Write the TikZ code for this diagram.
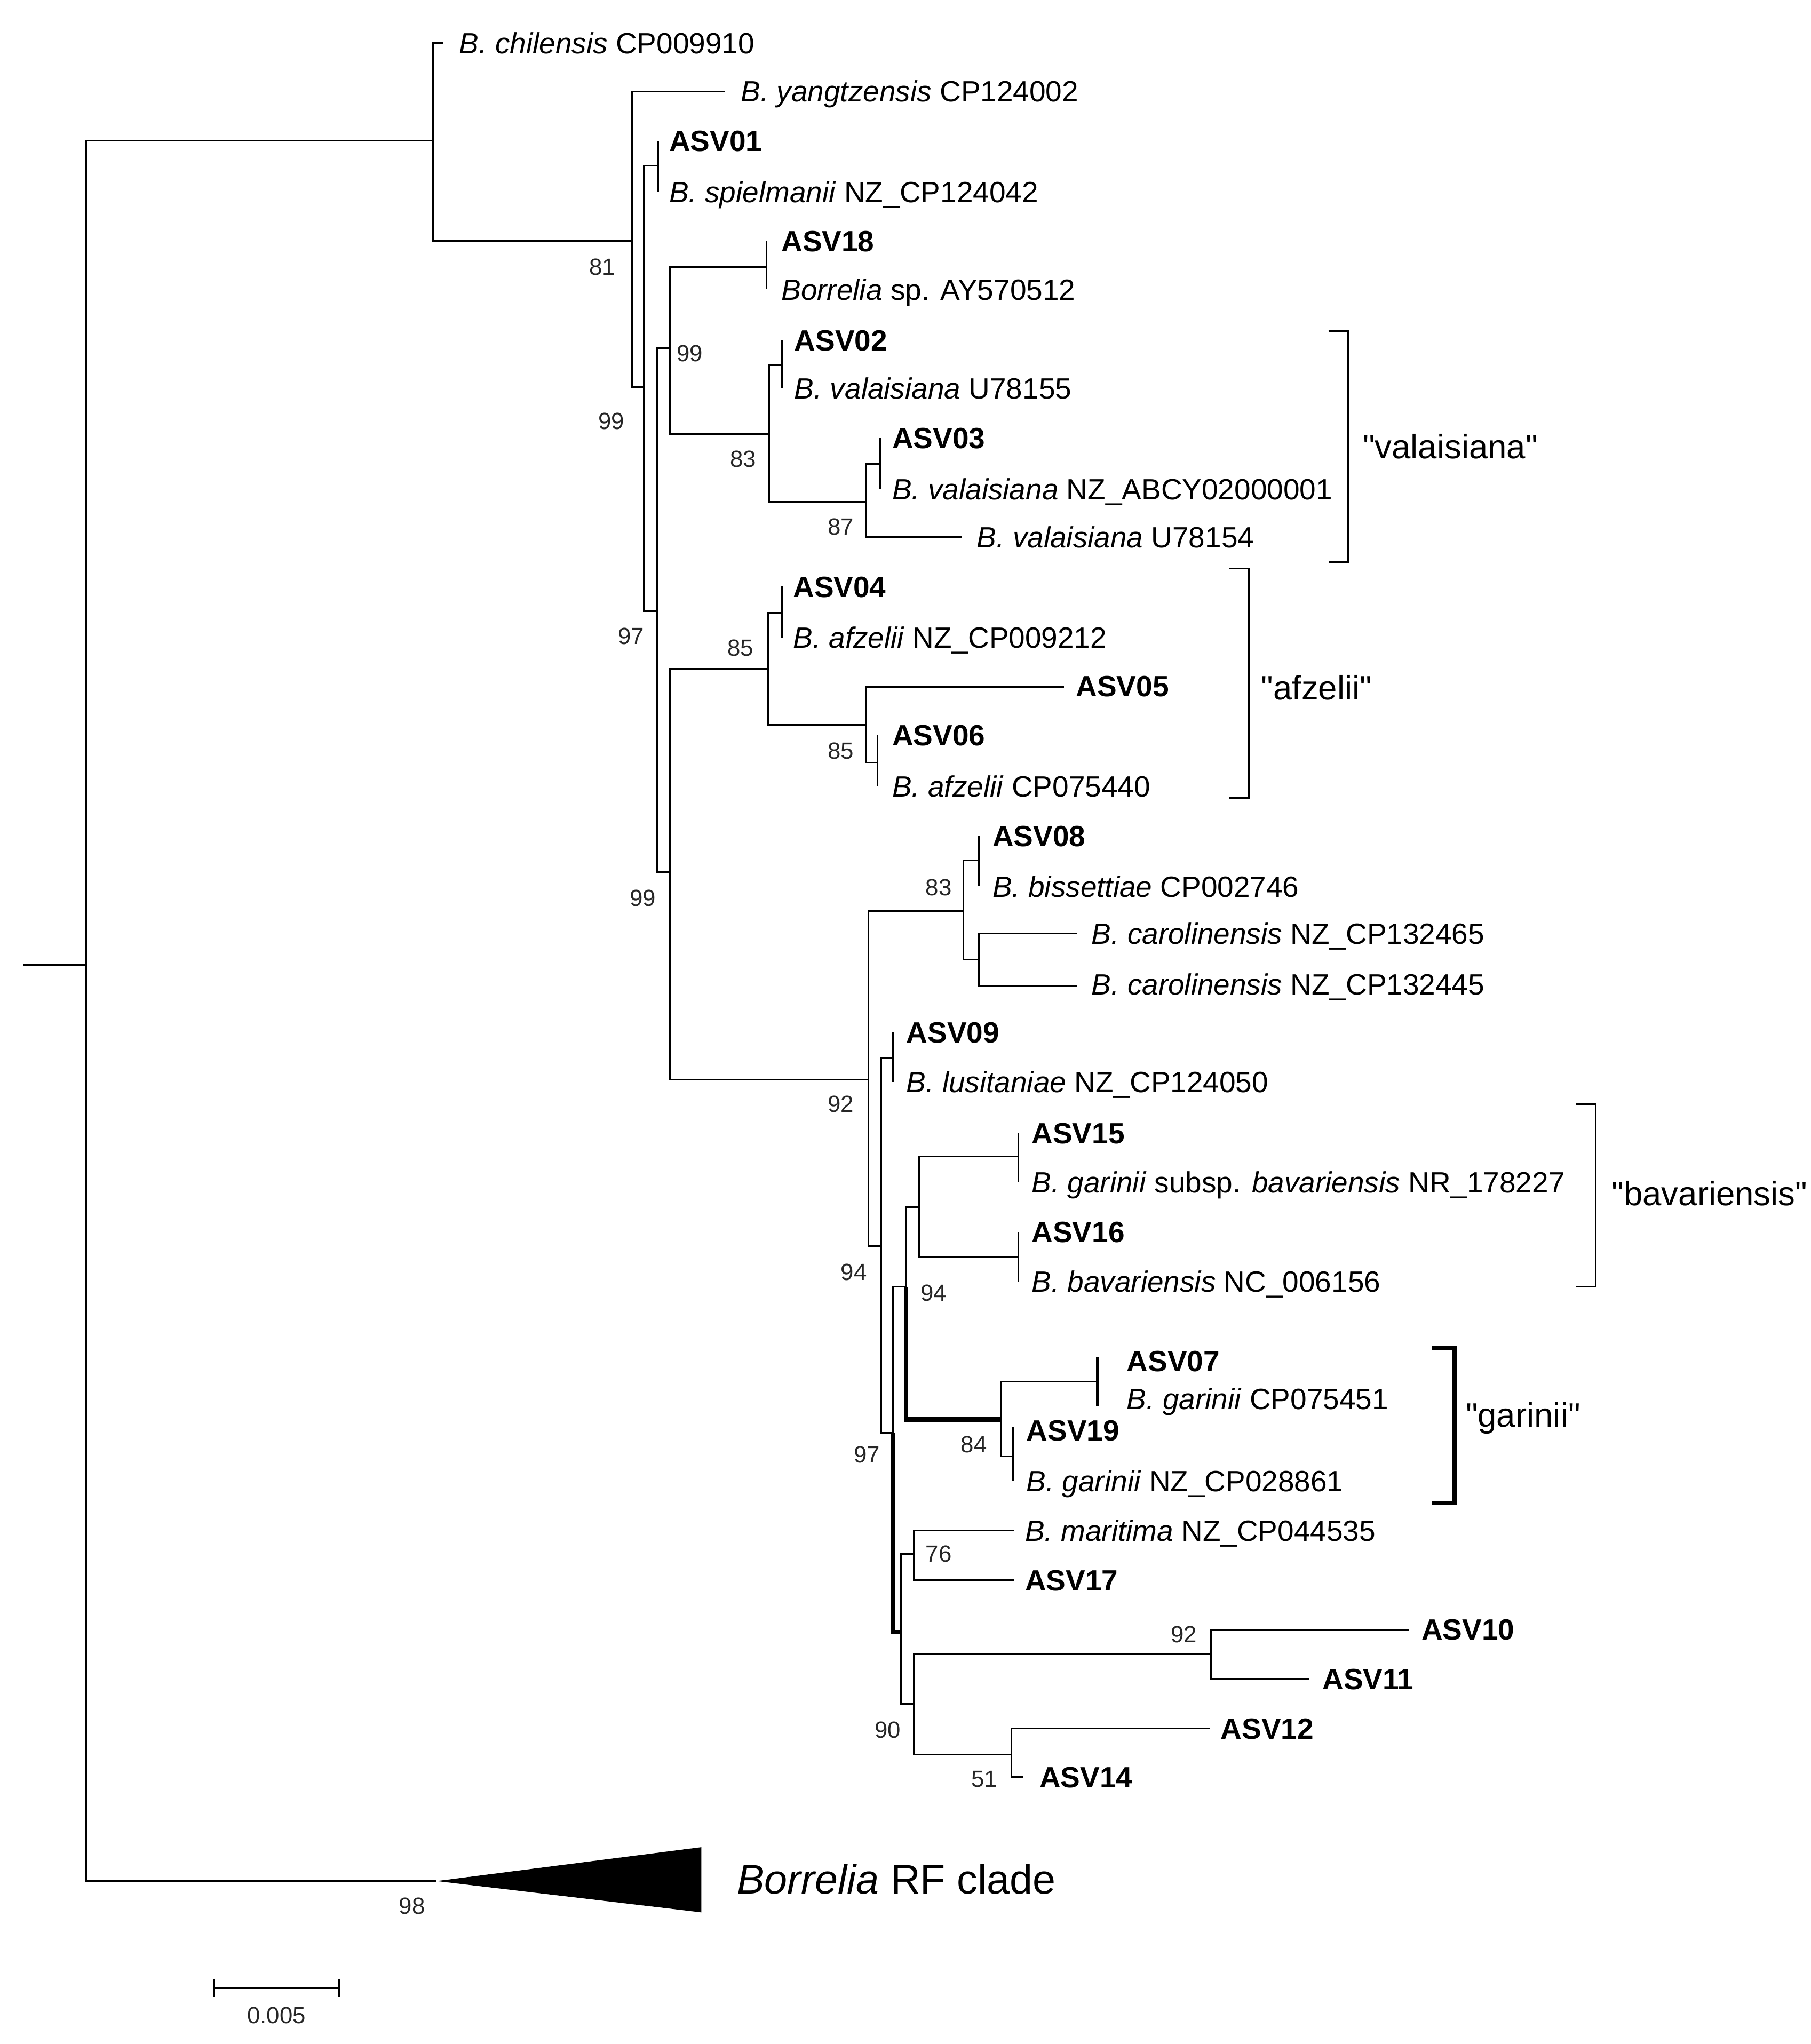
\documentclass[tikz,border=0pt]{standalone}
\usepackage{fontspec}
\setmainfont{Liberation Sans}
\usetikzlibrary{positioning, calc}

% straight double quote, without the tex-text mapping
\newcommand\sq{\XeTeXglyph\XeTeXcharglyph"22\relax}

\tikzset{
  branch/.style={line width=0.7pt},
  hibranch/.style={line width=2pt},
  leaf/.style={anchor=mid west, inner sep=0pt, yshift=-0.7mm, font=\fontsize{12.8}{14}\selectfont},
  asv/.style={leaf, font=\fontsize{12.8}{14}\selectfont\bfseries},
  boot/.style={inner sep=0pt, text=black!85, font=\fontsize{10.2}{12}\selectfont},
  cladename/.style={anchor=mid west, inner sep=0pt, yshift=-0.8mm, font=\fontsize{14.8}{17}\selectfont},
}

\begin{document}
\begin{tikzpicture}[x=0.2mm, y=-0.2mm]
      \useasboundingbox (0,0) rectangle (1389,1568);

      % inner nodes of the tree
      \coordinate (stem) at (18,740);
      \coordinate (root) at (66,740);
      \coordinate (n1) at (332,108);
      \coordinate (n2) at (485,185);
      \coordinate (n3) at (494,297);
      \coordinate (p01) at (505,127);
      \coordinate (n5) at (504,469);
      \coordinate (n6) at (514,267);
      \coordinate (p18) at (588,205);
      \coordinate (n8) at (590,333);
      \coordinate (p02) at (600,280);
      \coordinate (n10) at (664,385);
      \coordinate (p03) at (675,356);
      \coordinate (n12) at (514,669);
      \coordinate (n13) at (589,513);
      \coordinate (p04) at (600,470);
      \coordinate (n15) at (664,556);
      \coordinate (p06) at (673,585);
      \coordinate (n17) at (666,828);
      \coordinate (n18) at (739,699);
      \coordinate (p08) at (751,660);
      \coordinate (ncar) at (751,736);
      \coordinate (n21) at (676,956);
      \coordinate (p09) at (685,812);
      \coordinate (n23) at (685,1099);
      \coordinate (n24) at (695,987);
      \coordinate (n25) at (705,926);
      \coordinate (p15) at (781,887);
      \coordinate (p16) at (781,964);
      \coordinate (n28) at (768,1089);
      \coordinate (p07) at (842,1060);
      \coordinate (p19) at (777,1117);
      \coordinate (n31) at (691,1252);
      \coordinate (n32) at (701,1192);
      \coordinate (n33) at (701,1307);
      \coordinate (n34) at (929,1269);
      \coordinate (n35) at (776,1346);
      \coordinate (rf) at (335,1443);

      % tips
      \coordinate (chilT) at (340,33);
      \coordinate (yangT) at (556,70);
      \coordinate (asv01T) at (505,108);
      \coordinate (spielT) at (505,147);
      \coordinate (asv18T) at (588,185);
      \coordinate (ayT) at (588,222);
      \coordinate (asv02T) at (600,261);
      \coordinate (u155T) at (600,298);
      \coordinate (asv03T) at (675,336);
      \coordinate (abcyT) at (675,375);
      \coordinate (u154T) at (738,412);
      \coordinate (asv04T) at (600,450);
      \coordinate (afzaT) at (600,489);
      \coordinate (asv05T) at (816,527);
      \coordinate (asv06T) at (673,564);
      \coordinate (afzbT) at (673,603);
      \coordinate (asv08T) at (751,641);
      \coordinate (bissT) at (751,680);
      \coordinate (caraT) at (826,716);
      \coordinate (carbT) at (826,756);
      \coordinate (asv09T) at (685,792);
      \coordinate (lusT) at (685,830);
      \coordinate (asv15T) at (781,869);
      \coordinate (gsubT) at (781,907);
      \coordinate (asv16T) at (781,945);
      \coordinate (bavT) at (781,983);
      \coordinate (asv07T) at (842,1041);
      \coordinate (garaT) at (842,1079);
      \coordinate (asv19T) at (777,1095);
      \coordinate (garbT) at (777,1136);
      \coordinate (marT) at (778,1174);
      \coordinate (asv17T) at (778,1212);
      \coordinate (asv10T) at (1081,1250);
      \coordinate (asv11T) at (1004,1288);
      \coordinate (asv12T) at (928,1326);
      \coordinate (asv14T) at (785,1363);

      % tip labels
      \node[leaf] (chil) at (352,33) {\textit{B. chilensis} CP009910};
      \node[leaf] (yang) at (568,70) {\textit{B. yangtzensis} CP124002};
      \node[asv] (asv01) at (513,108) {ASV01};
      \node[leaf] (spiel) at (513,147) {\textit{B. spielmanii} NZ\_CP124042};
      \node[asv] (asv18) at (599,185) {ASV18};
      \node[leaf] (ay) at (599,222) {\textit{Borrelia} sp. AY570512};
      \node[asv] (asv02) at (609,261) {ASV02};
      \node[leaf] (u155) at (609,298) {\textit{B. valaisiana} U78155};
      \node[asv] (asv03) at (684,336) {ASV03};
      \node[leaf] (abcy) at (684,375) {\textit{B. valaisiana} NZ\_ABCY02000001};
      \node[leaf] (u154) at (749,412) {\textit{B. valaisiana} U78154};
      \node[asv] (asv04) at (608,450) {ASV04};
      \node[leaf] (afza) at (608,489) {\textit{B. afzelii} NZ\_CP009212};
      \node[asv] (asv05) at (825,526) {ASV05};
      \node[asv] (asv06) at (684,564) {ASV06};
      \node[leaf] (afzb) at (684,603) {\textit{B. afzelii} CP075440};
      \node[asv] (asv08) at (761,641) {ASV08};
      \node[leaf] (biss) at (761,680) {\textit{B. bissettiae} CP002746};
      \node[leaf] (cara) at (837,716) {\textit{B. carolinensis} NZ\_CP132465};
      \node[leaf] (carb) at (837,755) {\textit{B. carolinensis} NZ\_CP132445};
      \node[asv] (asv09) at (695,792) {ASV09};
      \node[leaf] (lus) at (695,830) {\textit{B. lusitaniae} NZ\_CP124050};
      \node[asv] (asv15) at (791,869) {ASV15};
      \node[leaf] (gsub) at (791,907) {\textit{B. garinii} subsp. \textit{bavariensis} NR\_178227};
      \node[asv] (asv16) at (791,945) {ASV16};
      \node[leaf] (bav) at (791,983) {\textit{B. bavariensis} NC\_006156};
      \node[asv] (asv07) at (864,1044) {ASV07};
      \node[leaf] (gara) at (864,1073) {\textit{B. garinii} CP075451};
      \node[asv] (asv19) at (787,1097) {ASV19};
      \node[leaf] (garb) at (787,1136) {\textit{B. garinii} NZ\_CP028861};
      \node[leaf] (mar) at (786,1174) {\textit{B. maritima} NZ\_CP044535};
      \node[asv] (asv17) at (786,1212) {ASV17};
      \node[asv] (asv10) at (1090,1250) {ASV10};
      \node[asv] (asv11) at (1014,1288) {ASV11};
      \node[asv] (asv12) at (936,1326) {ASV12};
      \node[asv] (asv14) at (797,1363) {ASV14};

      % branches
      \draw[branch] (stem) -- (root);
      \draw[branch] (root) |- (n1);
      \draw[branch] (root) |- (rf);
      \draw[branch] (n1) |- (chilT);
      \draw[branch] (n1) |- (n2);
      \draw[branch] (n2) |- (yangT);
      \draw[branch] (n2) |- (n3);
      \draw[branch] (n3) |- (p01);
      \draw[branch] (p01) |- (asv01T);
      \draw[branch] (p01) |- (spielT);
      \draw[branch] (n3) |- (n5);
      \draw[branch] (n5) |- (n6);
      \draw[branch] (n6) |- (p18);
      \draw[branch] (p18) |- (asv18T);
      \draw[branch] (p18) |- (ayT);
      \draw[branch] (n6) |- (n8);
      \draw[branch] (n8) |- (p02);
      \draw[branch] (p02) |- (asv02T);
      \draw[branch] (p02) |- (u155T);
      \draw[branch] (n8) |- (n10);
      \draw[branch] (n10) |- (p03);
      \draw[branch] (p03) |- (asv03T);
      \draw[branch] (p03) |- (abcyT);
      \draw[branch] (n10) |- (u154T);
      \draw[branch] (n5) |- (n12);
      \draw[branch] (n12) |- (n13);
      \draw[branch] (n13) |- (p04);
      \draw[branch] (p04) |- (asv04T);
      \draw[branch] (p04) |- (afzaT);
      \draw[branch] (n13) |- (n15);
      \draw[branch] (n15) |- (asv05T);
      \draw[branch] (n15) |- (p06);
      \draw[branch] (p06) |- (asv06T);
      \draw[branch] (p06) |- (afzbT);
      \draw[branch] (n12) |- (n17);
      \draw[branch] (n17) |- (n18);
      \draw[branch] (n18) |- (p08);
      \draw[branch] (p08) |- (asv08T);
      \draw[branch] (p08) |- (bissT);
      \draw[branch] (n18) |- (ncar);
      \draw[branch] (ncar) |- (caraT);
      \draw[branch] (ncar) |- (carbT);
      \draw[branch] (n17) |- (n21);
      \draw[branch] (n21) |- (p09);
      \draw[branch] (p09) |- (asv09T);
      \draw[branch] (p09) |- (lusT);
      \draw[branch] (n21) |- (n23);
      \draw[branch] (n23) |- (n24);
      \draw[branch] (n24) |- (n25);
      \draw[branch] (n25) |- (p15);
      \draw[branch] (p15) |- (asv15T);
      \draw[branch] (p15) |- (gsubT);
      \draw[branch] (n25) |- (p16);
      \draw[branch] (p16) |- (asv16T);
      \draw[branch] (p16) |- (bavT);
      \draw[hibranch] (n24) |- (n28);
      \draw[branch] (n28) |- (p07);
      \draw[line width=1.3pt] (asv07T) -- (garaT);
      \draw[branch] (n28) |- (p19);
      \draw[branch] (p19) |- (asv19T);
      \draw[branch] (p19) |- (garbT);
      \draw[hibranch] (n23) |- (n31);
      \draw[branch] (n31) |- (n32);
      \draw[branch] (n32) |- (marT);
      \draw[branch] (n32) |- (asv17T);
      \draw[branch] (n31) |- (n33);
      \draw[branch] (n33) |- (n34);
      \draw[branch] (n34) |- (asv10T);
      \draw[branch] (n34) |- (asv11T);
      \draw[branch] (n33) |- (n35);
      \draw[branch] (n35) |- (asv12T);
      \draw[branch] (n35) |- (asv14T);

      % collapsed clade
      \fill (rf) -- (538,1417) -- (538,1467) -- cycle;
      \node[anchor=mid west, inner sep=0pt, yshift=-1mm, font=\fontsize{18}{20}\selectfont] (rfname) at (565,1443) {\textit{Borrelia} RF clade};

      % bootstrap values
      \node[boot] (bs81) at (462,205) {81};
      \node[boot] (bs99a) at (469,323) {99};
      \node[boot] (bs99b) at (529,271) {99};
      \node[boot] (bs83a) at (570,352) {83};
      \node[boot] (bs87) at (645,404) {87};
      \node[boot] (bs97a) at (484,488) {97};
      \node[boot] (bs85a) at (568,497) {85};
      \node[boot] (bs85b) at (645,576) {85};
      \node[boot] (bs99c) at (493,689) {99};
      \node[boot] (bs83b) at (720,681) {83};
      \node[boot] (bs92a) at (645,847) {92};
      \node[boot] (bs94a) at (655,976) {94};
      \node[boot] (bs94b) at (716,992) {94};
      \node[boot] (bs97b) at (665,1116) {97};
      \node[boot] (bs84) at (747,1108) {84};
      \node[boot] (bs76) at (720,1192) {76};
      \node[boot] (bs90) at (681,1327) {90};
      \node[boot] (bs92b) at (908,1254) {92};
      \node[boot] (bs51) at (755,1365) {51};
      \node[boot] (bs98) at (316,1462) {98};

      % clade brackets
      \draw[branch] (1019,254) -- (1034,254) -- (1034,431) -- (1019,431);
      \node[cladename] (valais) at (1045,343) {\sq valaisiana\sq};
      \draw[branch] (943,436) -- (958,436) -- (958,612) -- (943,612);
      \node[cladename] (afzel) at (967,528) {\sq afzelii\sq};
      \draw[branch] (1209,847) -- (1224,847) -- (1224,987) -- (1209,987);
      \node[cladename] (bavar) at (1236,916) {\sq bavariensis\sq};
      \draw[hibranch] (1098,1034) -- (1116,1034) -- (1116,1153) -- (1098,1153);
      \node[cladename] (garin) at (1124,1086) {\sq garinii\sq};

      % scale bar
      \draw[branch] (164,1518) -- (164,1532);
      \draw[branch] (260,1518) -- (260,1532);
      \draw[branch] (164,1525) -- (260,1525);
      \node[boot] (scale) at (212,1546) {0.005};

    \end{tikzpicture}
\end{document}
